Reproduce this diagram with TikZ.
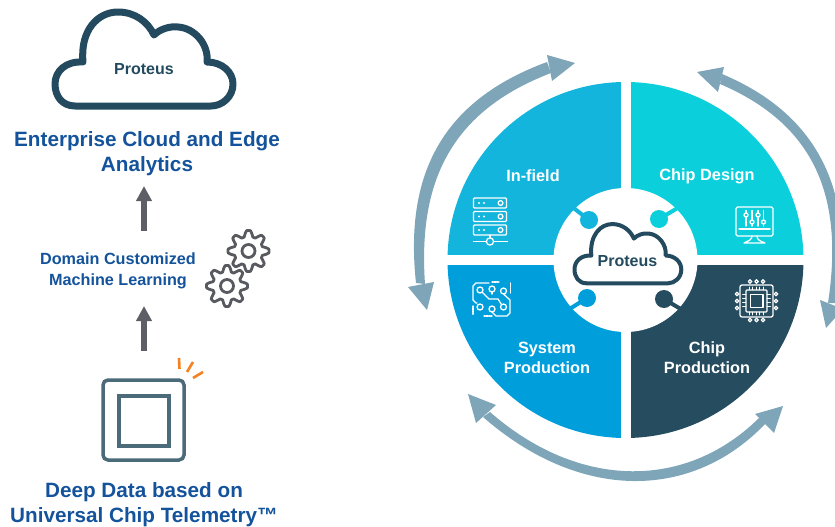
\documentclass[tikz,border=0pt]{standalone}
\usepackage{fontspec}
\setmainfont{Liberation Sans}
\usetikzlibrary{arrows.meta}
\definecolor{infield}{HTML}{14B5DC}
\definecolor{chipdes}{HTML}{0BD0DC}
\definecolor{sysprod}{HTML}{009FDB}
\definecolor{chipprod}{HTML}{264C60}
\definecolor{ringc}{HTML}{7FA5B9}
\definecolor{titleblue}{HTML}{14539B}
\definecolor{clouddark}{HTML}{234A5E}
\definecolor{arrowgray}{HTML}{5D5E66}
\definecolor{chipgray}{HTML}{4B6A7A}
\definecolor{geargray}{HTML}{585A5F}
\definecolor{tickorange}{HTML}{F58220}
\newcommand{\cloudpath}{(75,106) .. controls (62,106) and (55,96) .. (55,84) .. controls (55,71) and (66,61) .. (83,62) .. controls (80,30) and (98,12) .. (118,12) .. controls (135,12) and (148,22) .. (154,35) .. controls (160,29) and (170,26) .. (178,27) .. controls (195,28) and (209,45) .. (207,62) .. controls (222,62) and (233,72) .. (233,84) .. controls (233,97) and (222,106) .. (211,106) -- cycle}
\newcommand{\geardraw}[2]{\draw[gearline] plot[domain=0:360,samples=193,smooth] ({#1+(17.5+3*max(min(1.3*cos(8*\x),1),-1))*cos(\x)},{#2+(17.5+3*max(min(1.3*cos(8*\x),1),-1))*sin(\x)}) -- cycle; \draw[gearline] (#1,#2) circle[radius=6.5];}
\tikzset{
  x=1pt,y=-1pt,
  gearline/.style={draw=geargray,line width=2.8pt,line join=round},
  titletext/.style={text=titleblue,font=\fontsize{20.7}{25}\selectfont\bfseries,align=center,inner sep=0pt},
  midtext/.style={text=titleblue,font=\fontsize{16.2}{21}\selectfont\bfseries,align=center,inner sep=0pt},
  sectortext/.style={text=white,font=\fontsize{16.3}{20}\selectfont\bfseries,align=center,inner sep=0pt},
  cloudtext/.style={text=clouddark,font=\fontsize{16}{18}\selectfont\bfseries,inner sep=0pt},
  ic/.style={draw=white,line width=1.3pt,line join=round,line cap=round},
  up/.style={draw=arrowgray,line width=5.5pt,-{Triangle[length=15pt,width=15pt]}},
  ringband/.style={fill=ringc},
  ringhead/.style={fill=ringc},
  knobline/.style={line width=4pt},
}
\begin{document}
\begin{tikzpicture}
\useasboundingbox (0,0) rectangle (835,527);
\clip (0,0) rectangle (835,527);
% left column
\draw[clouddark,line width=7pt,line join=round] \cloudpath;
\node[cloudtext] (p1) at (144,69) {Proteus};
\node[titletext] (t1) at (147,153.5) {Enterprise Cloud and Edge\\Analytics};
\coordinate (a1) at (144,231);
\coordinate (a2) at (144,186);
\draw[up] (a1) -- (a2);
\node[midtext] (t2) at (118,270.5) {Domain Customized\\Machine Learning};
\coordinate (b1) at (144,351);
\coordinate (b2) at (144,306);
\draw[up] (b1) -- (b2);
\geardraw{248.5}{251}
\geardraw{227}{286}
\draw[chipgray,line width=3.5pt,rounded corners=5pt] (103,380) rectangle (184,460);
\draw[chipgray,line width=3.5pt] (119,396) rectangle (169,446);
\draw[tickorange,line width=2.6pt] (179,358) -- (179.5,369);
\draw[tickorange,line width=2.6pt] (193,362) -- (187,372);
\draw[tickorange,line width=2.6pt] (203,372) -- (193,378);
\node[titletext] (t3) at (144,504.5) {Deep Data based on\\Universal Chip Telemetry™};
% sectors
\def\cx{625.5}\def\cy{260}
\fill[infield] (\cx,\cy) -- (\cx-178,\cy) arc[start angle=180,end angle=270,radius=178] -- cycle;
\fill[chipdes] (\cx,\cy) -- (\cx,\cy-178) arc[start angle=270,end angle=360,radius=178] -- cycle;
\fill[chipprod] (\cx,\cy) -- (\cx+178,\cy) arc[start angle=0,end angle=90,radius=178] -- cycle;
\fill[sysprod] (\cx,\cy) -- (\cx,\cy+178) arc[start angle=90,end angle=180,radius=178] -- cycle;
\fill[white] (\cx-5,70) rectangle (\cx+5,450);
\fill[white] (440,255) rectangle (812,265);
\fill[white] (\cx,\cy) circle[radius=72];
% knobs
\draw[infield,knobline] (589,220) -- (571,206);
\fill[infield] (589,220) circle[radius=9];
\draw[chipdes,knobline] (659,219) -- (681,206);
\fill[chipdes] (659,219) circle[radius=9];
\draw[sysprod,knobline] (587,298) -- (568,310);
\fill[sysprod] (587,298) circle[radius=9];
\draw[chipprod,knobline] (664,299) -- (684,311);
\fill[chipprod] (664,299) circle[radius=9];
% centre cloud
\begin{scope}[shift={(541.5,216.5)},x=0.6pt,y=-0.63pt]
\draw[clouddark,line width=4pt,line join=round] \cloudpath;
\end{scope}
\node[cloudtext] (p2) at (627.5,261) {Proteus};
% ring arrows
\fill[ringband] (547,62) .. controls (444,100) and (404,172) .. (416,283) -- (425,284) .. controls (418,184) and (449,112) .. (551,73) -- cycle;
\fill[ringhead] (575,63) -- (547,55) -- (552,81) -- cycle;
\fill[ringhead] (427,310) -- (408,287) -- (434,282) -- cycle;
\fill[ringband] (722,74) .. controls (822,116) and (855,196) .. (838,303) -- (828,303) .. controls (844,198) and (816,125) .. (720,84) -- cycle;
\fill[ringhead] (697,72) -- (724,67) -- (718,92) -- cycle;
\fill[ringhead] (826,328) -- (820,300) -- (843,309) -- cycle;
\fill[ringband] (483,417) .. controls (579,501) and (692,502) .. (767,422) -- (762,415) .. controls (688,491) and (579,490) .. (490,412) -- cycle;
\fill[ringhead] (468,394) -- (496,405) -- (476,423) -- cycle;
\fill[ringhead] (783,406) -- (755,414) -- (774,433) -- cycle;
% sector labels
\node[sectortext] (s1) at (533,176) {In-field};
\node[sectortext] (s2) at (707,176) {Chip Design};
\node[sectortext] (s3) at (547,358) {System\\Production};
\node[sectortext] (s4) at (707,358) {Chip\\Production};
% server icon
\foreach \y in {198,211.5,225}{
  \draw[ic,rounded corners=1pt] (473.5,\y) rectangle (506.5,\y+10);
  \fill[white] (479,\y+5) circle[radius=1.2];
  \fill[white] (484,\y+5) circle[radius=1.2];
  \draw[ic] (500.5,\y+5) circle[radius=2.4];
}
\draw[ic] (473.5,241.5) -- (507.5,241.5);
\draw[ic] (490,235) -- (490,238);
\draw[ic,fill=infield] (490,241.5) circle[radius=3.6];
% circuit icon
\foreach \a/\b in {480/290,492/289,503.5/291,480/307,492/309,503.5/307}{
  \draw[ic] (\a,\b) circle[radius=3];
}
\draw[ic] (473,300) -- (473,286) -- (476,283) -- (489,283);
\draw[ic] (473,300) -- (476,303) -- (477,303);
\draw[ic] (482.5,292.5) -- (489,299) -- (498,299) -- (501.5,304.5);
\draw[ic] (492,292) -- (492,294);
\draw[ic] (503.5,294) -- (510,300) -- (510,313) -- (507,316) -- (496,316) -- (492,312);
\draw[ic,densely dotted] (492,282) -- (499,282);
\draw[ic,densely dotted] (510.5,283) -- (510.5,293);
\draw[ic,densely dotted] (484,316) -- (492,316);
\draw[ic,densely dotted] (473,306) -- (473,315);
% monitor icon
\draw[ic,rounded corners=1.5pt] (736,207) rectangle (773,236);
\draw[ic] (739,229) -- (770,229);
\draw[ic] (752,236) .. controls (752,240) and (748,241) .. (744,243) -- (765,243) .. controls (760,241) and (757,240) .. (757,236);
\foreach \a/\b in {746/215,752/222,758/215,763.5/222}{
  \draw[ic] (\a,210.5) -- (\a,226);
  \draw[ic,fill=chipdes] (\a,\b) circle[radius=2];
}
% chip icon
\draw[ic,rounded corners=2pt] (740,285) rectangle (773,317);
\draw[ic,rounded corners=1pt] (746,290) rectangle (767,312);
\draw[ic] (750.5,294.5) rectangle (763,307.5);
\foreach \a in {750,756.5,763}{
  \draw[ic] (\a,281.5) circle[radius=1.8];
  \draw[ic] (\a,320) circle[radius=1.8];
}
\foreach \b in {294,301,308}{
  \draw[ic] (737,\b) circle[radius=1.8];
  \draw[ic] (776,\b) circle[radius=1.8];
}
\foreach \a in {749,752.5,756,759.5,763}{
  \draw[ic,line width=0.8pt] (\a,287) -- (\a,290);
  \draw[ic,line width=0.8pt] (\a,312) -- (\a,315);
}
\foreach \b in {294,298,302,306}{
  \draw[ic,line width=0.8pt] (742.5,\b) -- (746,\b);
  \draw[ic,line width=0.8pt] (767,\b) -- (770.5,\b);
}
\end{tikzpicture}
\end{document}
